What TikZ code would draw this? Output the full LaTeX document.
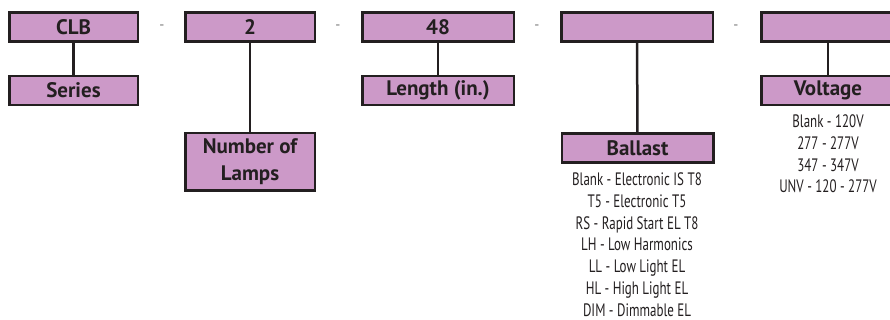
\documentclass[tikz,border=0pt]{standalone}
\usepackage{fontspec}
\setmainfont{PT Sans}
\newfontfamily\narrowfont[FakeStretch=0.72]{PT Sans}
\definecolor{boxpink}{HTML}{CC99C8}
\definecolor{boxline}{HTML}{231F20}

\begin{document}
\begin{tikzpicture}[x=1pt, y=-1pt,
    codebox/.style={draw=boxline, line width=2.5pt, fill=boxpink, inner sep=0pt,
      minimum height=29pt, align=center, text=boxline,
      font=\fontsize{21}{27}\selectfont\bfseries},
    link/.style={draw=boxline, line width=2.5pt},
    sep/.style={text=gray!90!black, font=\fontsize{14}{14}\selectfont},
    optlist/.style={anchor=north, inner sep=0pt, align=center, text=boxline,
      font=\narrowfont\fontsize{18}{21.8}\selectfont}]
  \useasboundingbox (0, 0) rectangle (890, 320);
  \clip (0, 0) rectangle (890, 320);

      %%code row
      \node[codebox, minimum width=128.5pt] (clb) at (73.5, 27){CLB};
      \node[sep] (d1) at (162, 27){-};
      \node[codebox, minimum width=129.5pt] (lamps) at (250, 27){2};
      \node[sep] (d2) at (338, 27){-};
      \node[codebox, minimum width=151.5pt] (len) at (438, 27){48};
      \node[sep] (d3) at (537, 27){-};
      \node[codebox, minimum width=151.5pt] (bal) at (637, 27){};
      \node[sep] (d4) at (736, 27){-};
      \node[codebox, minimum width=133.5pt] (volt) at (828, 27){};

      %%names
      \node[codebox, minimum width=128.5pt] (series) at (73.5, 90.5){Series};
      \node[codebox, minimum width=129.5pt, minimum height=57.5pt] (lampsname) at (250, 162){Number of\\Lamps};
      \node[codebox, minimum width=151.5pt] (lenname) at (438, 90.5){Length (in.)};
      \node[codebox, minimum width=151.5pt] (balname) at (637.5, 148){Ballast};
      \node[codebox, minimum width=133.5pt] (voltname) at (828, 90.5){Voltage};

      %%lines
      \draw[link] (clb) -- (series);
      \draw[link] (lamps) -- (lampsname);
      \draw[link] (len) -- (lenname);
      \draw[link] (bal) -- (balname);
      \draw[link] (volt) -- (voltname);

      %%options
      \node[optlist] (balopts) at (637, 172.5){Blank - Electronic IS T8\\T5 - Electronic T5\\RS - Rapid Start EL T8\\LH - Low Harmonics\\LL - Low Light EL\\HL - High Light EL\\DIM - Dimmable EL};
      \node[optlist] (voltopts) at (828, 114.5){Blank - 120V\\277 - 277V\\347 - 347V\\UNV - 120 - 277V};
\end{tikzpicture}
\end{document}
